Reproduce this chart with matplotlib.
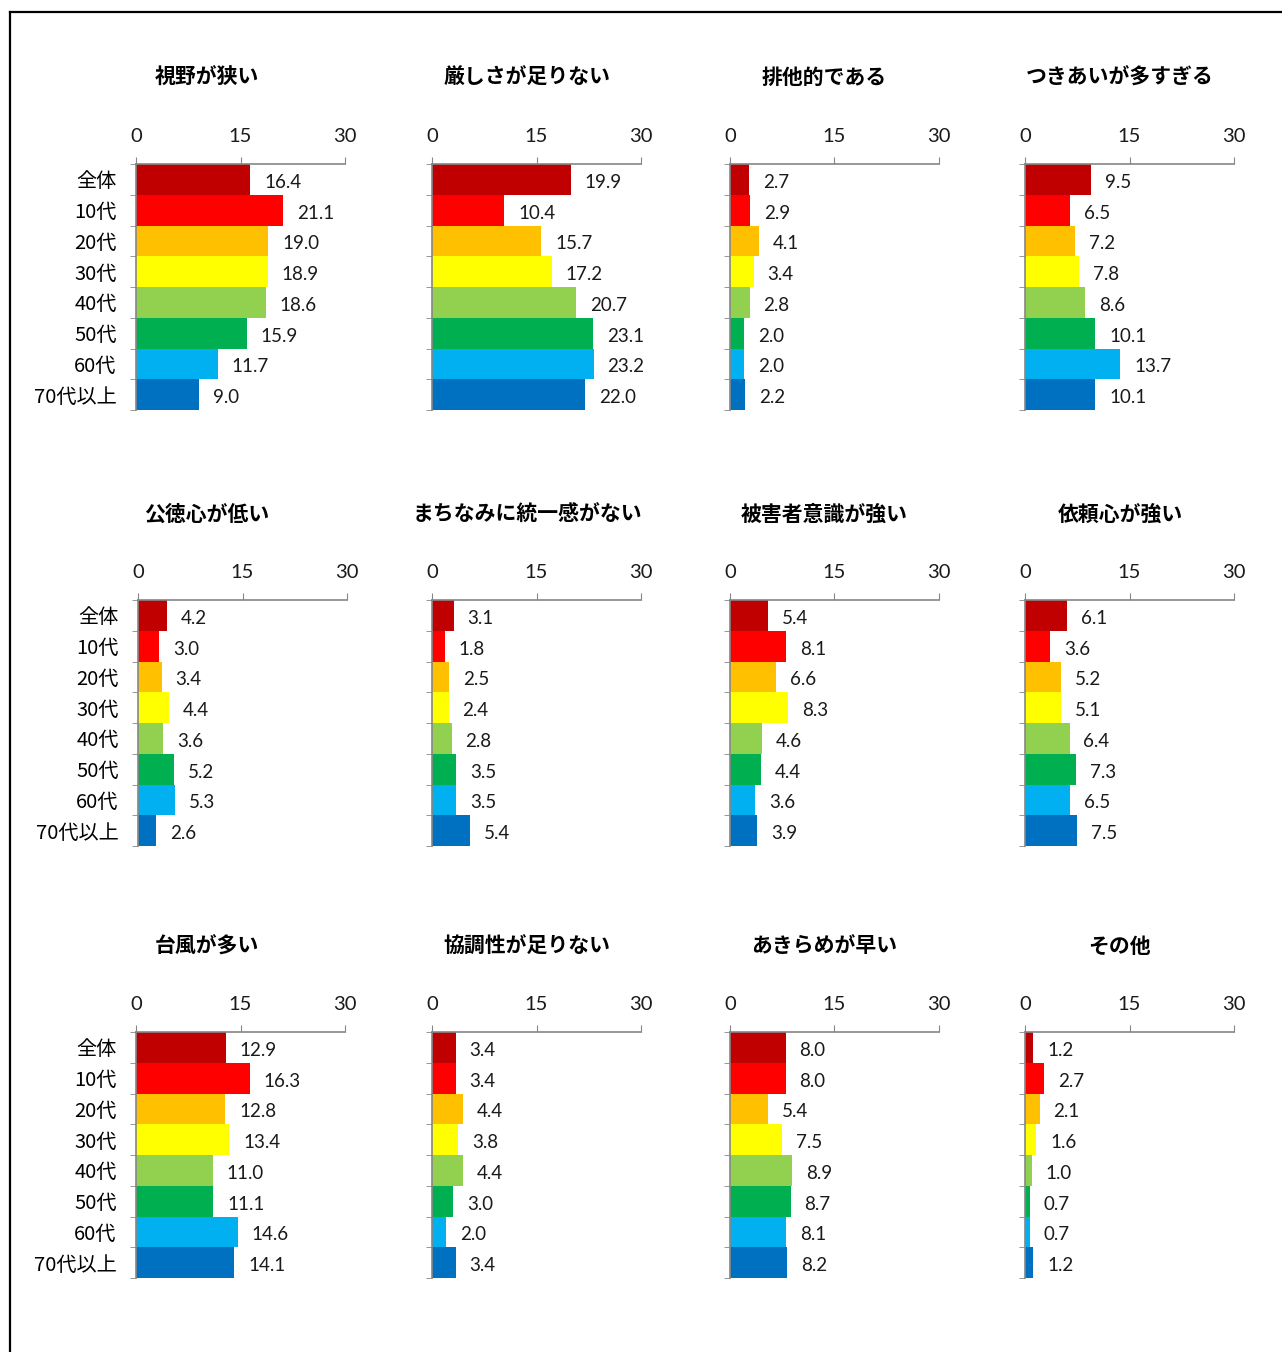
import matplotlib
matplotlib.use('Agg')
import matplotlib.pyplot as plt
from matplotlib.lines import Line2D

plt.rcParams['font.family'] = ['Noto Sans CJK JP', 'DejaVu Sans']

# categories (top to bottom)
groups = ['全体', '10代', '20代', '30代', '40代', '50代', '60代', '70代以上']
colors = ['#C00000', '#FF0000', '#FFC000', '#FFFF00', '#92D050', '#00B050', '#00B0F0', '#0070C0']

titles = ['視野が狭い', '厳しさが足りない', '排他的である', 'つきあいが多すぎる',
          '公徳心が低い', 'まちなみに統一感がない', '被害者意識が強い', '依頼心が強い',
          '台風が多い', '協調性が足りない', 'あきらめが早い', 'その他']

v_shiya = [16.4, 21.1, 19.0, 18.9, 18.6, 15.9, 11.7, 9.0]
v_kibishisa = [19.9, 10.4, 15.7, 17.2, 20.7, 23.1, 23.2, 22.0]
v_haita = [2.7, 2.9, 4.1, 3.4, 2.8, 2.0, 2.0, 2.2]
v_tsukiai = [9.5, 6.5, 7.2, 7.8, 8.6, 10.1, 13.7, 10.1]
v_kotoku = [4.2, 3.0, 3.4, 4.4, 3.6, 5.2, 5.3, 2.6]
v_machinami = [3.1, 1.8, 2.5, 2.4, 2.8, 3.5, 3.5, 5.4]
v_higaisha = [5.4, 8.1, 6.6, 8.3, 4.6, 4.4, 3.6, 3.9]
v_irai = [6.1, 3.6, 5.2, 5.1, 6.4, 7.3, 6.5, 7.5]
v_taifu = [12.9, 16.3, 12.8, 13.4, 11.0, 11.1, 14.6, 14.1]
v_kyocho = [3.4, 3.4, 4.4, 3.8, 4.4, 3.0, 2.0, 3.4]
v_akirame = [8.0, 8.0, 5.4, 7.5, 8.9, 8.7, 8.1, 8.2]
v_sonota = [1.2, 2.7, 2.1, 1.6, 1.0, 0.7, 0.7, 1.2]

values = [v_shiya, v_kibishisa, v_haita, v_tsukiai,
          v_kotoku, v_machinami, v_higaisha, v_irai,
          v_taifu, v_kyocho, v_akirame, v_sonota]

ticks = [0, 15, 30]

W, H = 1282, 1352
fig = plt.figure(figsize=(W / 100, H / 100), dpi=100)

# layout in pixels
col_left = [136, 432, 730, 1025]
col_width = 209
row_top = [164, 600, 1032]
row_height = 246
title_x = [207, 527, 824, 1120]
title_y = [77, 514, 946]
gray = '#868686'
num_font = ['Lato', 'DejaVu Sans']

for i in range(12):
    r, c = divmod(i, 4)
    left = col_left[c] + (2 if r == 1 and c == 0 else 0)
    ax = fig.add_axes([left / W, 1 - (row_top[r] + row_height) / H,
                       col_width / W, row_height / H])
    y = list(range(len(groups)))
    ax.barh(y, values[i], height=1.0, color=colors, edgecolor='none')
    for yy, v in zip(y, values[i]):
        ax.annotate('{:.1f}'.format(v), (v, yy), xytext=(10, -1), textcoords='offset points',
                    ha='left', va='center_baseline', fontsize=13.5, family=num_font,
                    color='#1a1a1a')
    ax.set_xlim(0, 30)
    ax.set_ylim(len(groups) - 0.5, -0.5)
    ax.set_xticks(ticks)
    ax.xaxis.tick_top()
    ax.tick_params(axis='x', direction='out', length=5, color=gray, pad=9,
                   labelsize=14.5, labelcolor='#1a1a1a')
    for lab in ax.get_xticklabels():
        lab.set_family(num_font)
    ax.set_yticks([k + 0.5 for k in range(-1, len(groups))], minor=True)
    ax.set_yticks(y)
    ax.tick_params(axis='y', which='major', length=0, pad=14, labelsize=14.5)
    ax.tick_params(axis='y', which='minor', direction='out', length=4, color=gray)
    if c == 0:
        ax.set_yticklabels(groups)
        for lab in ax.get_yticklabels():
            lab.set_verticalalignment('center_baseline')
    else:
        ax.set_yticklabels([])
    for s in ['right', 'bottom']:
        ax.spines[s].set_visible(False)
    ax.spines['top'].set_color(gray)
    ax.spines['left'].set_color(gray)
    ax.spines['top'].set_linewidth(1.2)
    ax.spines['left'].set_linewidth(1.2)
    fig.text(title_x[c] / W, 1 - title_y[r] / H, titles[i], ha='center', va='center',
             fontsize=15, fontweight='bold')

# outer frame (top and left edges only)
fig.add_artist(Line2D([10 / W, 1], [1 - 12 / H, 1 - 12 / H], color='black', lw=1.6,
                      transform=fig.transFigure))
fig.add_artist(Line2D([10 / W, 10 / W], [0, 1 - 12 / H], color='black', lw=1.6,
                      transform=fig.transFigure))

plt.savefig('out.png', dpi=100)
